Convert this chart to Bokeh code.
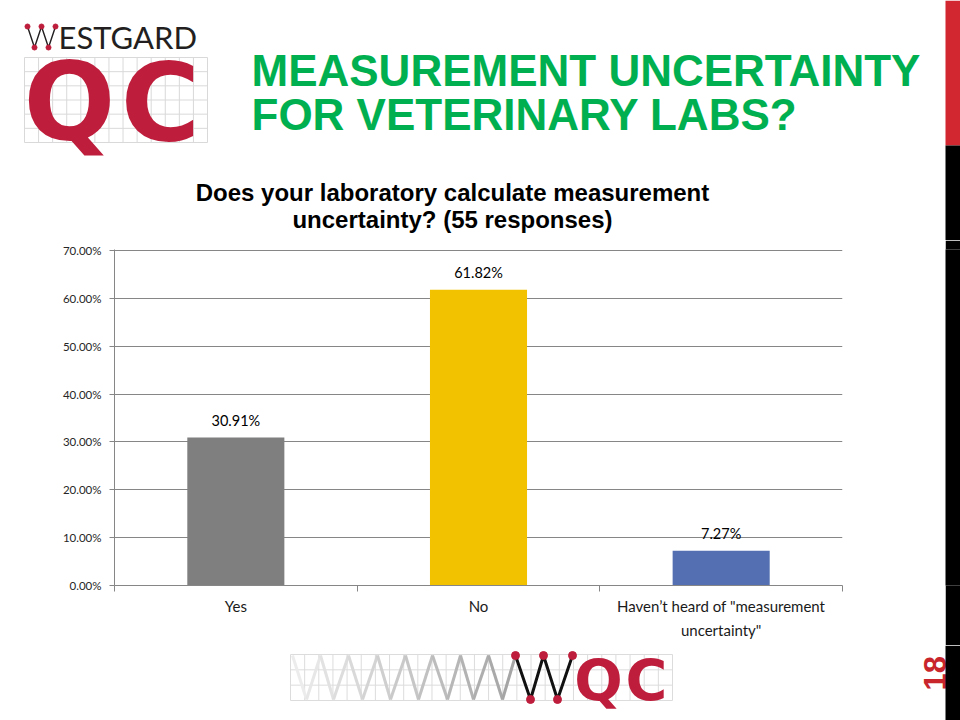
import numpy as np
from bokeh.plotting import figure
from bokeh.models import Range1d, FixedTicker
from bokeh.layouts import column, row
from bokeh.embed import file_html
from bokeh.resources import INLINE
from bokeh.core.properties import value

# ---------------- data ----------------
categories = ["Yes", "No", "Haven\u2019t heard of \"measurement\nuncertainty\""]
percentages = [30.91, 61.82, 7.27]
bar_colors = ["#7f7f7f", "#f2c200", "#5470b2"]
y_ticks = [0, 10, 20, 30, 40, 50, 60, 70]
y_tick_labels = ["0.00%", "10.00%", "20.00%", "30.00%", "40.00%", "50.00%", "60.00%", "70.00%"]
chart_title = ["Does your laboratory calculate measurement", "uncertainty? (55 responses)"]
slide_title = ["MEASUREMENT UNCERTAINTY", "FOR VETERINARY LABS?"]
slide_number = "18"

RED = "#be1e3c"
BAR_RED = "#d22630"
GREEN = "#00b050"
AXIS_GREY = "#868686"


def deco(width, height, x0, x1, y0, y1):
    f = figure(width=width, height=height, x_range=Range1d(x0, x1), y_range=Range1d(y1, y0),
               x_axis_type=None, y_axis_type=None, toolbar_location=None,
               output_backend="svg", min_border=0, outline_line_color=None)
    return f


def base(y, size):
    # shift so that the rendered alphabetic baseline lands on y
    return y - 0.33 * size


# ---------------- header (page x 0..960, y 0..240) ----------------
h = deco(960, 240, 0, 960, 0, 240)

gx = np.linspace(24, 207, 14)
gy = np.linspace(57, 142, 7)
h.segment(x0=gx, y0=[57] * len(gx), x1=gx, y1=[142] * len(gx), line_color="#d9d9d9", line_width=1)
h.segment(x0=[24] * len(gy), y0=gy, x1=[207] * len(gy), y1=gy, line_color="#d9d9d9", line_width=1)
h.text(x=[69, 160], y=[base(138, 108)] * 2, text=["Q", "C"], text_font=value("DejaVu Sans"),
       text_font_style="bold", text_font_size="108px", text_color=RED,
       text_align="center", text_baseline="alphabetic")

wx = [27, 34, 41, 48, 55]
wy = [26, 47, 26, 47, 26]
h.line(x=wx, y=wy, line_color="#231f20", line_width=1.4)
h.scatter(x=wx, y=wy, size=5, color=RED)
h.text(x=[58], y=[base(47, 31)], text=["ESTGARD"], text_font=value("Lato"), text_font_size="31px",
       text_color="#231f20", text_baseline="alphabetic")

h.text(x=[251, 251], y=[base(85, 44), base(129, 44)], text=slide_title,
       text_font=value("Liberation Sans"), text_font_style="bold", text_font_size="44px",
       text_color=GREEN, text_baseline="alphabetic")

h.text(x=[452, 452], y=[base(200, 24), base(227, 24)], text=chart_title,
       text_font=value("Liberation Sans"), text_font_style="bold", text_font_size="24px",
       text_color="#000000", text_align="center", text_baseline="alphabetic")

h.quad(left=[945], right=[960], top=[0], bottom=[145], color=BAR_RED, line_color=None)
h.quad(left=[945], right=[960], top=[145], bottom=[240], color="#000000", line_color=None)

# ---------------- chart (page x 0..945, y 240..645) ----------------
xs = np.arange(len(categories)) + 0.5
p = figure(width=945, height=405, x_range=Range1d(0, len(categories)), y_range=Range1d(0, 70.21),
           toolbar_location=None, output_backend="svg", min_border_left=114, min_border_right=103,
           min_border_top=9, min_border_bottom=60, outline_line_color=None)
p.vbar(x=xs, top=percentages, width=0.4, color=bar_colors, line_color=None)
p.text(x=xs, y=percentages, text=[f"{v:.2f}%" for v in percentages], text_align="center",
       text_baseline="bottom", y_offset=-9, text_font=value("Lato"), text_font_size="14.5px",
       text_color="#000000")

p.xgrid.visible = False
p.ygrid.ticker = FixedTicker(ticks=y_ticks)
p.ygrid.grid_line_color = AXIS_GREY

xa = p.xaxis[0]
xa.ticker = FixedTicker(ticks=list(xs), minor_ticks=list(range(len(categories) + 1)))
xa.major_label_overrides = {float(x): c for x, c in zip(xs, categories)}
xa.major_tick_line_color = None
xa.minor_tick_out = 6
xa.minor_tick_in = 0
xa.minor_tick_line_color = AXIS_GREY
xa.axis_line_color = AXIS_GREY
xa.major_label_text_font = "Lato"
xa.major_label_text_font_size = "15px"
xa.major_label_text_color = "#1a1a1a"
xa.major_label_text_line_height = 1.35
xa.major_label_standoff = 5

ya = p.yaxis[0]
ya.ticker = FixedTicker(ticks=y_ticks, minor_ticks=[])
ya.major_label_overrides = {t: l for t, l in zip(y_ticks, y_tick_labels)}
ya.major_tick_out = 5
ya.major_tick_in = 0
ya.major_tick_line_color = AXIS_GREY
ya.minor_tick_line_color = None
ya.axis_line_color = AXIS_GREY
ya.major_label_text_font = "Lato"
ya.major_label_text_font_size = "11.5px"
ya.major_label_text_color = "#262626"
ya.major_label_standoff = 8

side = figure(width=15, height=405, x_axis_type=None, y_axis_type=None, toolbar_location=None,
              output_backend="svg", min_border=0, outline_line_color=None,
              background_fill_color="#000000", border_fill_color="#000000")

# ---------------- footer (page x 0..960, y 645..720) ----------------
f = deco(960, 75, 0, 960, 645, 720)
fx = np.linspace(290, 672, 28)
fy = np.linspace(654, 700, 4)
f.segment(x0=fx, y0=[654] * len(fx), x1=fx, y1=[700] * len(fx), line_color="#dcdcdc", line_width=1)
f.segment(x0=[290] * len(fy), y0=fy, x1=[672] * len(fy), y1=fy, line_color="#dcdcdc", line_width=1)

T, B = 655, 699
zig_x = [292, 306, 320, 333, 348, 362, 377, 390, 405, 418, 432, 447, 460, 473, 488, 502, 515]
zig_y = [T if i % 2 == 0 else B for i in range(len(zig_x))]
greys = np.linspace(236, 165, len(zig_x) - 1).astype(int)
f.segment(x0=zig_x[:-1], y0=zig_y[:-1], x1=zig_x[1:], y1=zig_y[1:],
          line_color=["#%02x%02x%02x" % (g, g, g) for g in greys], line_width=3)
bw_x = [515, 530, 543, 557, 572]
bw_y = [T, B, T, B, T]
f.line(x=bw_x, y=bw_y, line_color="#111111", line_width=3)
f.scatter(x=bw_x, y=bw_y, size=8, color=RED)
f.text(x=[598, 646], y=[base(699, 57)] * 2, text=["Q", "C"], text_font=value("DejaVu Sans"),
       text_font_style="bold", text_font_size="57px", text_color=RED,
       text_align="center", text_baseline="alphabetic")

f.text(x=[945 - 0.33 * 31], y=[690], text=[slide_number], angle=np.pi / 2,
       text_font=value("Liberation Sans"), text_font_style="bold", text_font_size="31px",
       text_color="#c8252c", text_align="left", text_baseline="alphabetic")
f.quad(left=[945], right=[960], top=[645], bottom=[720], color="#000000", line_color=None)

layout = column(h, row(p, side), f)
open("out.html", "w").write(file_html(layout, INLINE))
